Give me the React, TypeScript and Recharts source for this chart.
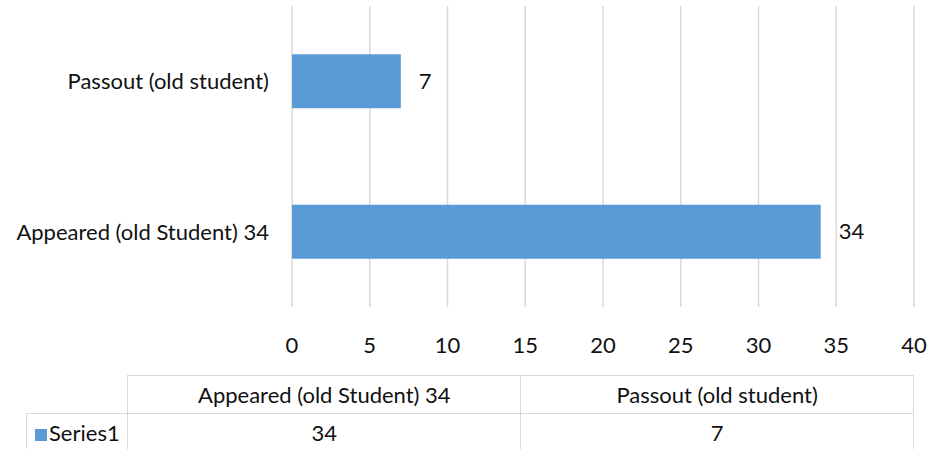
import React from "react";
import { BarChart, Bar, XAxis, YAxis, CartesianGrid, LabelList } from "recharts";

const categories = ["Appeared (old Student) 34", "Passout (old student)"];
const series1 = [34, 7];
const seriesName = "Series1";
const xTicks = [0, 5, 10, 15, 20, 25, 30, 35, 40];

const data = categories.map((c, i) => ({ name: c, value: series1[i] }));

const FONT = "Lato, 'Open Sans', sans-serif";
const FS = 22;
const BAR = "#5B9BD5";
const GRID = "#d9d9d9";
const TEXT = "#111";

export default function App() {
  const border = `1px solid ${GRID}`;
  const cell: React.CSSProperties = { border, textAlign: "center", padding: 0, lineHeight: 1, verticalAlign: "middle" };
  return (
    <div style={{ position: "fixed", left: 0, top: 0, width: 933, height: 449, background: "#fff", fontFamily: FONT, overflow: "hidden" }}>
      <BarChart
        width={933}
        height={360}
        data={data}
        layout="vertical"
        margin={{ top: 6, right: 19, left: 0, bottom: 0 }}
        barCategoryGap="32%"
      >
        <CartesianGrid horizontal={false} stroke={GRID} strokeWidth={1.5} />
        <XAxis
          type="number"
          domain={[0, 40]}
          ticks={xTicks}
          axisLine={false}
          tickLine={false}
          tickMargin={24}
          height={53}
          interval={0}
          tick={{ fill: TEXT, fontSize: FS, fontFamily: FONT }}
        />
        <YAxis
          type="category"
          dataKey="name"
          reversed
          width={292}
          axisLine={false}
          tickLine={false}
          tickMargin={17}
          tick={{ fill: TEXT, fontSize: FS, fontFamily: FONT }}
        />
        <Bar dataKey="value" fill={BAR} isAnimationActive={false}>
          <LabelList dataKey="value" position="right" offset={18} fill={TEXT} fontSize={FS} fontFamily={FONT} />
        </Bar>
      </BarChart>
      <div style={{ position: "absolute", left: 26, top: 375, width: 888, height: 80 }}>
        <table
          style={{
            borderCollapse: "collapse",
            fontFamily: FONT,
            fontSize: FS,
            color: TEXT,
            tableLayout: "fixed",
          }}
        >
          <tbody>
            <tr style={{ height: 38 }}>
              <td style={{ width: 101, padding: 0 }}></td>
              {categories.map((c) => (
                <td key={c} style={{ ...cell, width: 393 }}>{c}</td>
              ))}
            </tr>
            <tr style={{ height: 38 }}>
              <td style={{ ...cell, textAlign: "left", paddingLeft: 8, whiteSpace: "nowrap" }}>
                <span style={{ display: "inline-block", width: 12, height: 12, background: BAR, marginRight: 2 }} />
                {seriesName}
              </td>
              {series1.map((v, i) => (
                <td key={i} style={cell}>{v}</td>
              ))}
            </tr>
          </tbody>
        </table>
      </div>
    </div>
  );
}
